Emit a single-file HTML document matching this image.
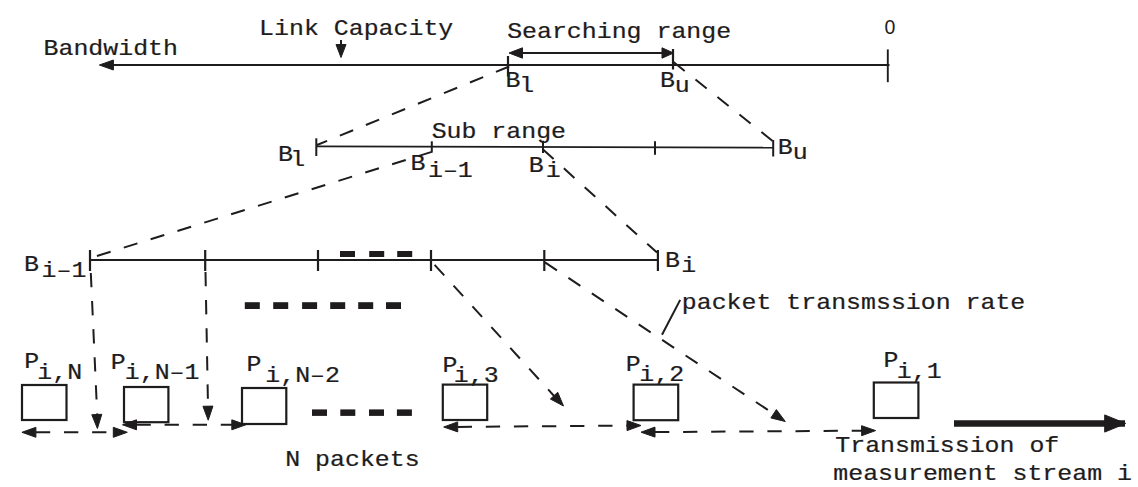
<!DOCTYPE html>
<html><head><meta charset="utf-8"><style>
text{stroke:#1e1c1d;stroke-width:0.25;font-family:"Liberation Mono",monospace;} text.sans{font-family:"Liberation Sans",sans-serif;stroke:none;}
html,body{margin:0;padding:0;background:#fff;}
svg{display:block;}
</style></head><body>
<svg width="1138" height="487" viewBox="0 0 1138 487">
<rect width="1138" height="487" fill="#fff"/>
<g stroke="#1e1c1d" fill="#1e1c1d" stroke-linecap="butt">
<g stroke="none" font-family="Liberation Mono, monospace" fill="#1e1c1d">
</g>
</g>
<g fill="#1e1c1d" stroke="#1e1c1d">
<line x1="113" y1="65" x2="889.5" y2="65" stroke-width="2.2"/>
<polygon points="99.40,65.00 113.40,60.00 113.40,70.00" />
<line x1="887.8" y1="49.4" x2="887.8" y2="82.2" stroke-width="1.9"/>
<line x1="508" y1="56" x2="508" y2="76.5" stroke-width="2.2"/>
<line x1="673" y1="49" x2="673" y2="69.5" stroke-width="2.2"/>
<line x1="520" y1="53" x2="662" y2="53" stroke-width="2.2"/>
<polygon points="509.00,53.00 522.50,47.80 522.50,58.20" />
<polygon points="673.50,53.00 662.00,58.20 662.00,47.80" />
<line x1="341" y1="40" x2="341" y2="46" stroke-width="2"/>
<polygon points="341.00,57.50 336.00,44.50 346.00,44.50" />
<text transform="translate(43.53,55.00) scale(1,0.85)" font-size="24.9">Bandwidth</text>
<text transform="translate(259.12,34.70) scale(1,0.85)" font-size="24.9">Link Capacity</text>
<text transform="translate(507.14,38.20) scale(1,0.85)" font-size="24.9">Searching range</text>
<text class="sans" x="884.6" y="34.3" font-size="19.5">0</text>
<text transform="translate(505.43,86.70) scale(1,0.85)" font-size="24.9">B</text>
<text transform="translate(519.35,91.60) scale(1,0.85)" font-size="24.9">l</text>
<text transform="translate(659.93,86.60) scale(1,0.85)" font-size="24.9">B</text>
<text transform="translate(674.75,92.00) scale(1,0.85)" font-size="24.9">u</text>
<line x1="509.2" y1="66.5" x2="317" y2="145" stroke-width="2" stroke-dasharray="14.3 13.8" stroke-dashoffset="0"/>
<line x1="673.5" y1="62" x2="772.7" y2="141" stroke-width="2" stroke-dasharray="14.3 13.8" stroke-dashoffset="0"/>
<line x1="316" y1="146.3" x2="773" y2="147.6" stroke-width="1.8"/>
<line x1="316.3" y1="138.3" x2="316.3" y2="156" stroke-width="2"/>
<line x1="431.8" y1="141.3" x2="431.8" y2="151.6" stroke-width="2"/>
<line x1="543" y1="140.8" x2="543" y2="153" stroke-width="2"/>
<line x1="655" y1="141.3" x2="655" y2="154.8" stroke-width="2"/>
<line x1="773.2" y1="140" x2="773.2" y2="156.5" stroke-width="2"/>
<text transform="translate(431.64,137.70) scale(1,0.85)" font-size="24.9">Sub range</text>
<text transform="translate(277.93,161.00) scale(1,0.85)" font-size="24.9">B</text>
<text transform="translate(290.15,166.00) scale(1,0.85)" font-size="24.9">l</text>
<text transform="translate(410.43,170.30) scale(1,0.85)" font-size="24.9">B</text>
<text transform="translate(427.96,176.80) scale(1,0.85)" font-size="24.9">i–1</text>
<text transform="translate(528.73,172.40) scale(1,0.85)" font-size="24.9">B</text>
<text transform="translate(545.66,177.10) scale(1,0.85)" font-size="24.9">i</text>
<text transform="translate(777.63,153.60) scale(1,0.85)" font-size="24.9">B</text>
<text transform="translate(792.75,158.50) scale(1,0.85)" font-size="24.9">u</text>
<line x1="432.6" y1="151.6" x2="96.2" y2="256.2" stroke-width="2" stroke-dasharray="14.3 13.8" stroke-dashoffset="0"/>
<line x1="543" y1="149.5" x2="657" y2="252.6" stroke-width="2" stroke-dasharray="14.3 13.8" stroke-dashoffset="0"/>
<line x1="90" y1="260" x2="658" y2="260" stroke-width="2.2"/>
<line x1="90" y1="250" x2="90" y2="271" stroke-width="2.2"/>
<line x1="205.2" y1="250" x2="205.2" y2="271" stroke-width="2.2"/>
<line x1="318" y1="250" x2="318" y2="271" stroke-width="2.2"/>
<line x1="431" y1="250" x2="431" y2="271" stroke-width="2.2"/>
<line x1="544.3" y1="250" x2="544.3" y2="271" stroke-width="2.2"/>
<line x1="657.9" y1="250" x2="657.9" y2="271" stroke-width="2.2"/>
<text transform="translate(24.03,271.00) scale(1,0.85)" font-size="24.9">B</text>
<text transform="translate(41.56,276.50) scale(1,0.85)" font-size="24.9">i–1</text>
<text transform="translate(665.03,266.60) scale(1,0.85)" font-size="24.9">B</text>
<text transform="translate(681.26,271.50) scale(1,0.85)" font-size="24.9">i</text>
<rect x="340" y="251" width="15" height="6" stroke="none"/>
<rect x="369.2" y="251" width="15" height="6" stroke="none"/>
<rect x="397.2" y="251" width="15" height="6" stroke="none"/>
<rect x="244.8" y="302.2" width="15" height="6.8" stroke="none"/>
<rect x="273.2" y="302.2" width="15" height="6.8" stroke="none"/>
<rect x="302.1" y="302.2" width="15" height="6.8" stroke="none"/>
<rect x="330.2" y="302.2" width="15" height="6.8" stroke="none"/>
<rect x="358.2" y="302.2" width="15" height="6.8" stroke="none"/>
<rect x="386" y="302.2" width="15" height="6.8" stroke="none"/>
<rect x="312" y="409.4" width="15" height="6.5" stroke="none"/>
<rect x="340.3" y="409.4" width="15" height="6.5" stroke="none"/>
<rect x="369" y="409.4" width="15" height="6.5" stroke="none"/>
<rect x="396.9" y="409.4" width="15" height="6.5" stroke="none"/>
<line x1="90.8" y1="273" x2="97.2" y2="414.5" stroke-width="2" stroke-dasharray="14.3 13.8" stroke-dashoffset="0"/>
<polygon points="97.40,428.50 91.81,414.72 101.80,414.30" />
<line x1="205.5" y1="272" x2="208" y2="406" stroke-width="2" stroke-dasharray="14.3 13.8" stroke-dashoffset="0"/>
<polygon points="208.20,420.20 202.95,406.29 212.94,406.11" />
<line x1="434.6" y1="264.8" x2="555" y2="397" stroke-width="2" stroke-dasharray="14.3 13.8" stroke-dashoffset="0"/>
<polygon points="563.50,406.00 550.37,399.03 557.75,392.29" />
<line x1="545" y1="262.4" x2="774" y2="414" stroke-width="2" stroke-dasharray="14.3 13.8" stroke-dashoffset="0"/>
<polygon points="785.30,421.50 770.87,417.94 776.39,409.60" />
<line x1="680.2" y1="299.9" x2="662" y2="334.8" stroke-width="2"/>
<text transform="translate(681.82,308.60) scale(1,0.85)" font-size="24.9">packet transmssion rate</text>
<rect x="22" y="385" width="44.5" height="35" fill="none" stroke-width="2.2"/>
<rect x="124" y="387" width="44.400000000000006" height="35.19999999999999" fill="none" stroke-width="2.2"/>
<rect x="242" y="388" width="44.30000000000001" height="36" fill="none" stroke-width="2.2"/>
<rect x="442.8" y="384.6" width="44.39999999999998" height="35.39999999999998" fill="none" stroke-width="2.2"/>
<rect x="633.6" y="384.6" width="44.60000000000002" height="35.599999999999966" fill="none" stroke-width="2.2"/>
<rect x="873.8" y="382.5" width="44.60000000000002" height="35.5" fill="none" stroke-width="2.2"/>
<text transform="translate(24.23,368.00) scale(1,0.85)" font-size="24.9">P</text>
<text transform="translate(37.26,378.80) scale(1,0.85)" font-size="24.9">i,N</text>
<text transform="translate(110.63,368.60) scale(1,0.85)" font-size="24.9">P</text>
<text transform="translate(124.76,379.10) scale(1,0.85)" font-size="24.9">i,N–1</text>
<text transform="translate(246.43,371.20) scale(1,0.85)" font-size="24.9">P</text>
<text transform="translate(265.26,382.20) scale(1,0.85)" font-size="24.9">i,N–2</text>
<text transform="translate(442.43,371.80) scale(1,0.85)" font-size="24.9">P</text>
<text transform="translate(453.76,382.10) scale(1,0.85)" font-size="24.9">i,3</text>
<text transform="translate(625.63,370.80) scale(1,0.85)" font-size="24.9">P</text>
<text transform="translate(639.26,380.50) scale(1,0.85)" font-size="24.9">i,2</text>
<text transform="translate(883.43,366.70) scale(1,0.85)" font-size="24.9">P</text>
<text transform="translate(896.76,377.70) scale(1,0.85)" font-size="24.9">i,1</text>
<line x1="35.9" y1="432.3" x2="114.3" y2="432.3" stroke-width="2" stroke-dasharray="14.3 13.8" stroke-dashoffset="0"/>
<polygon points="21.90,432.30 35.90,427.30 35.90,437.30" />
<polygon points="127.30,432.30 113.30,437.30 113.30,427.30" />
<line x1="136.5" y1="424.8" x2="232.8" y2="424.8" stroke-width="2" stroke-dasharray="14.3 13.8" stroke-dashoffset="0"/>
<polygon points="122.50,424.80 136.50,419.80 136.50,429.80" />
<polygon points="245.80,424.80 231.80,429.80 231.80,419.80" />
<line x1="457.69959541706424" y1="426.89356617777196" x2="628.0003756841546" y2="425.59883140635463" stroke-width="2" stroke-dasharray="14.3 13.8" stroke-dashoffset="0"/>
<polygon points="443.70,427.00 457.66,421.89 457.74,431.89" />
<polygon points="641.00,425.50 627.04,430.61 626.96,420.61" />
<line x1="654.9996744131624" y1="432.10452054961183" x2="862.6003023306349" y2="430.68865948964617" stroke-width="2" stroke-dasharray="14.3 13.8" stroke-dashoffset="0"/>
<polygon points="641.00,432.20 654.97,427.10 655.03,437.10" />
<polygon points="875.60,430.60 861.63,435.70 861.57,425.70" />
<line x1="954" y1="423.5" x2="1125" y2="423.5" stroke-width="6.6"/>
<polygon points="1125.70,423.50 1104.70,432.10 1104.70,414.90" />
<text transform="translate(285.23,465.80) scale(1,0.85)" font-size="24.9">N packets</text>
<text transform="translate(835.28,451.80) scale(1,0.85)" font-size="24.9">Transmission of</text>
<text transform="translate(833.30,479.70) scale(1,0.85)" font-size="24.9">measurement stream i</text>
</g>
</svg>
</body></html>
